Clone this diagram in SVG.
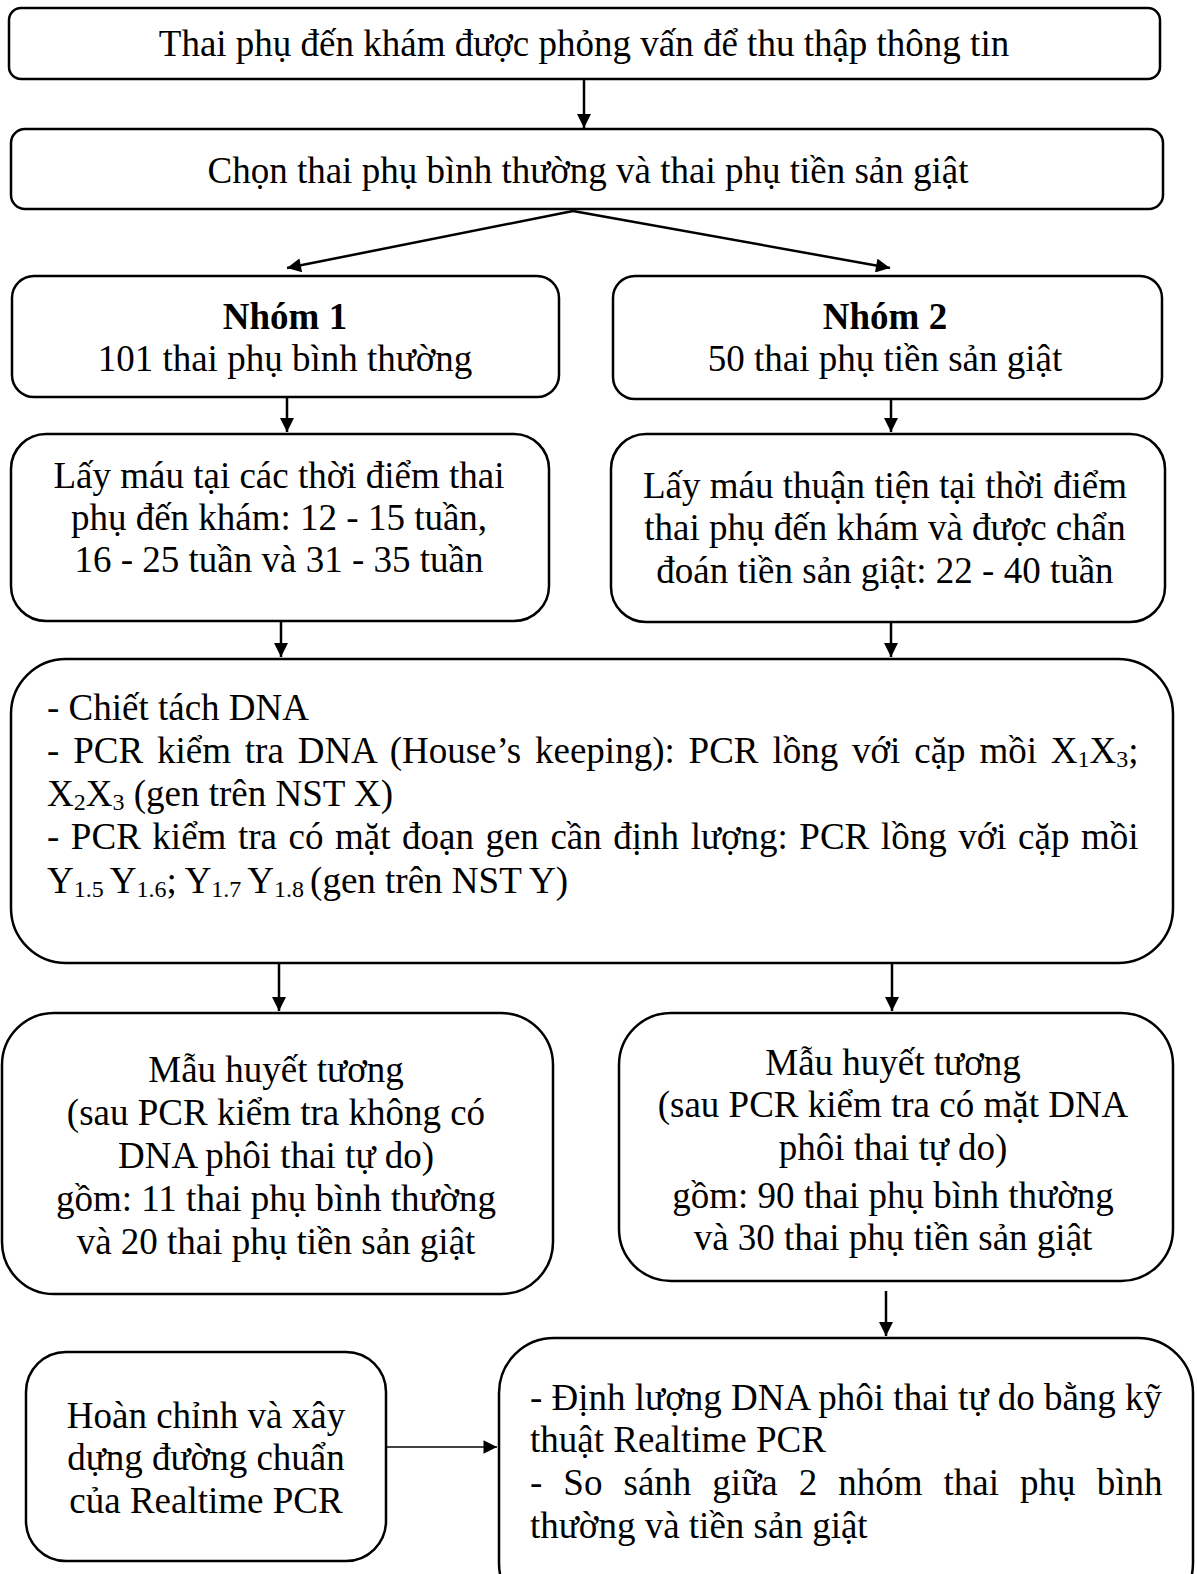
<svg xmlns="http://www.w3.org/2000/svg" width="1197" height="1574" viewBox="0 0 1197 1574">
<style>
.box{fill:#fff;stroke:#000;stroke-width:2.5}
text{font-family:"Liberation Serif","Times New Roman",serif;font-size:37px;fill:#000}
.c{text-anchor:middle}
.b{font-weight:bold}
.s{font-size:24px}
.con{stroke:#000;stroke-width:2.5;fill:none}
</style>
<defs>
<marker id="ah" viewBox="0 0 10 10" refX="10" refY="5" markerWidth="6.2" markerHeight="5.6" orient="auto" markerUnits="strokeWidth">
<path d="M0,0 L10,5 L0,10 z" fill="#000"/>
</marker>
<marker id="ah2" viewBox="0 0 10 10" refX="10" refY="5" markerWidth="10" markerHeight="9" orient="auto" markerUnits="strokeWidth">
<path d="M0,0 L10,5 L0,10 z" fill="#000"/>
</marker>
</defs>
<rect width="1197" height="1574" fill="#fff"/>
<g id="connectors">
<path class="con" d="M584,79 V128" marker-end="url(#ah)"/>
<path class="con" d="M573,211 L287,268" marker-end="url(#ah)"/>
<path class="con" d="M573,211 L890,268" marker-end="url(#ah)"/>
<path class="con" d="M287,397 V432" marker-end="url(#ah)"/>
<path class="con" d="M891,399 V432" marker-end="url(#ah)"/>
<path class="con" d="M281,622 V657" marker-end="url(#ah)"/>
<path class="con" d="M891,622 V657" marker-end="url(#ah)"/>
<path class="con" d="M279,963 V1011" marker-end="url(#ah)"/>
<path class="con" d="M892,963 V1011" marker-end="url(#ah)"/>
<path class="con" d="M886,1291 V1336" marker-end="url(#ah)"/>
<path class="con" style="stroke-width:1.5" d="M386,1447 H497" marker-end="url(#ah2)"/>
</g>
<g id="n1">
<rect class="box" x="9" y="8" width="1151" height="71" rx="12"/>
<text class="c" x="584" y="56">Thai phụ đến khám được phỏng vấn để thu thập thông tin</text>
</g>
<g id="n2">
<rect class="box" x="11" y="129" width="1152" height="80" rx="14"/>
<text class="c" x="588" y="183">Chọn thai phụ bình thường và thai phụ tiền sản giật</text>
</g>
<g id="n3">
<rect class="box" x="12" y="276" width="547" height="121" rx="22"/>
<text class="c b" x="285" y="329">Nhóm 1</text>
<text class="c" x="285" y="371">101 thai phụ bình thường</text>
</g>
<g id="n4">
<rect class="box" x="613" y="276" width="549" height="123" rx="22"/>
<text class="c b" x="885" y="329">Nhóm 2</text>
<text class="c" x="885" y="371">50 thai phụ tiền sản giật</text>
</g>
<g id="n5">
<rect class="box" x="11" y="434" width="538" height="187" rx="35"/>
<text class="c" x="279" y="488">Lấy máu tại các thời điểm thai</text>
<text class="c" x="279" y="530">phụ đến khám: 12 - 15 tuần,</text>
<text class="c" x="279" y="572">16 - 25 tuần và 31 - 35 tuần</text>
</g>
<g id="n6">
<rect class="box" x="611" y="434" width="554" height="188" rx="35"/>
<text class="c" x="885" y="498">Lấy máu thuận tiện tại thời điểm</text>
<text class="c" x="885" y="540">thai phụ đến khám và được chẩn</text>
<text class="c" x="885" y="583">đoán tiền sản giật: 22 - 40 tuần</text>
</g>
<g id="n7">
<rect class="box" x="11" y="659" width="1162" height="304" rx="55"/>
<text x="47" y="720">- Chiết tách DNA</text>
<text x="47" y="763" word-spacing="4.6">- PCR kiểm tra DNA (House’s keeping): PCR lồng với cặp mồi X<tspan class="s" dy="4">1</tspan><tspan dy="-4">X</tspan><tspan class="s" dy="4">3</tspan><tspan dy="-4">;</tspan></text>
<text x="47" y="806">X<tspan class="s" dy="4">2</tspan><tspan dy="-4">X</tspan><tspan class="s" dy="4">3</tspan><tspan dy="-4"> (gen trên NST X)</tspan></text>
<text x="47" y="849" word-spacing="2.3">- PCR kiểm tra có mặt đoạn gen cần định lượng: PCR lồng với cặp mồi</text>
<text x="47" y="893">Y<tspan class="s" dy="4">1.5 </tspan><tspan dy="-4">Y</tspan><tspan class="s" dy="4">1.6</tspan><tspan dy="-4">; Y</tspan><tspan class="s" dy="4">1.7 </tspan><tspan dy="-4">Y</tspan><tspan class="s" dy="4">1.8 </tspan><tspan dy="-4">(gen trên NST Y)</tspan></text>
</g>
<g id="n8">
<rect class="box" x="2" y="1013" width="551" height="281" rx="52"/>
<text class="c" x="276" y="1082">Mẫu huyết tương</text>
<text class="c" x="276" y="1125">(sau PCR kiểm tra không có</text>
<text class="c" x="276" y="1168">DNA phôi thai tự do)</text>
<text class="c" x="276" y="1211">gồm: 11 thai phụ bình thường</text>
<text class="c" x="276" y="1254">và 20 thai phụ tiền sản giật</text>
</g>
<g id="n9">
<rect class="box" x="619" y="1013" width="554" height="268" rx="52"/>
<text class="c" x="893" y="1075">Mẫu huyết tương</text>
<text class="c" x="893" y="1117">(sau PCR kiểm tra có mặt DNA</text>
<text class="c" x="893" y="1160">phôi thai tự do)</text>
<text class="c" x="893" y="1208">gồm: 90 thai phụ bình thường</text>
<text class="c" x="893" y="1250">và 30 thai phụ tiền sản giật</text>
</g>
<g id="n10">
<rect class="box" x="26" y="1352" width="360" height="209" rx="40"/>
<text class="c" x="206" y="1428">Hoàn chỉnh và xây</text>
<text class="c" x="206" y="1470">dựng đường chuẩn</text>
<text class="c" x="206" y="1513">của Realtime PCR</text>
</g>
<g id="n11">
<rect class="box" x="499" y="1338" width="694" height="280" rx="55"/>
<text x="530" y="1410">- Định lượng DNA phôi thai tự do bằng kỹ</text>
<text x="530" y="1452">thuật Realtime PCR</text>
<text x="530" y="1495" word-spacing="11.8">- So sánh giữa 2 nhóm thai phụ bình</text>
<text x="530" y="1538">thường và tiền sản giật</text>
</g>
</svg>
